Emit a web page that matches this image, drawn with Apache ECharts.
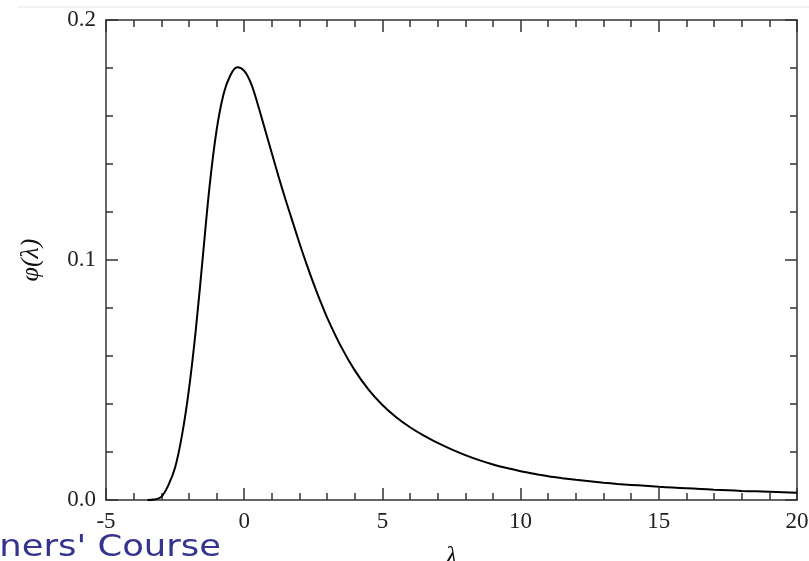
<!DOCTYPE html>
<html>
<head>
<meta charset="utf-8">
<script src="https://cdn.jsdelivr.net/npm/echarts@6/dist/echarts.min.js"></script>
<style>
  html, body { margin: 0; padding: 0; background: #fff; }
  #chart { width: 809px; height: 561px; }
</style>
</head>
<body>
<div id="chart"></div>
<script>
  // lambda values and phi(lambda)
  let lambdaVals = [-3.5, -3.25, -3.0, -2.75, -2.5, -2.25, -2.0, -1.75, -1.5, -1.25, -1.0, -0.75, -0.5, -0.25,
    0.0, 0.25, 0.5, 0.75, 1.0, 1.25, 1.5, 1.75, 2.0, 2.25, 2.5, 2.75, 3.0,
    3.5, 4.0, 4.5, 5.0, 5.5, 6.0, 6.5, 7.0, 7.5, 8.0, 8.5, 9.0, 9.5,
    10, 10.5, 11, 11.5, 12, 12.5, 13, 13.5, 14, 14.5, 15, 15.5, 16, 16.5, 17, 17.5, 18, 18.5, 19, 19.5, 20];
  let phiVals = [0.0, 0.0002, 0.0013, 0.006, 0.0135, 0.027, 0.046, 0.071, 0.101, 0.131, 0.154, 0.169, 0.177, 0.1803,
    0.1788, 0.1735, 0.1645, 0.1545, 0.1445, 0.1345, 0.125, 0.116, 0.107, 0.0985, 0.0905, 0.083, 0.076,
    0.064, 0.054, 0.046, 0.0396, 0.0345, 0.0303, 0.0268, 0.0238, 0.0211, 0.0187, 0.0166, 0.0148, 0.0133,
    0.0120, 0.0109, 0.0099, 0.0091, 0.0084, 0.0078, 0.0072, 0.0067, 0.0063, 0.0059, 0.0055, 0.0052, 0.0049, 0.0046, 0.0043, 0.0041, 0.0038, 0.0036, 0.0034, 0.0032, 0.0030];
  let xTicks = [-5, 0, 5, 10, 15, 20];
  let yTicks = [0.0, 0.1, 0.2];

  let points = lambdaVals.map(function (x, i) { return [x, phiVals[i]]; });

  let serif = '"Liberation Serif", "DejaVu Serif", serif';
  let axisCol = '#333';

  function xAxisDef(pos, showLabel) {
    return {
      type: 'value',
      position: pos,
      min: xTicks[0],
      max: xTicks[xTicks.length - 1],
      interval: 5,
      name: showLabel ? 'λ' : '',
      nameLocation: 'middle',
      nameGap: 44,
      nameTextStyle: { fontFamily: serif, fontSize: 26, fontStyle: 'italic', color: '#111' },
      axisLine: { show: true, onZero: false, lineStyle: { color: axisCol, width: 1.5 } },
      axisTick: { show: true, inside: true, length: 12, lineStyle: { color: axisCol, width: 1.5 } },
      minorTick: { show: true, splitNumber: 5, length: 7, lineStyle: { color: axisCol, width: 1.5 } },
      axisLabel: {
        show: showLabel, margin: 10,
        fontFamily: serif, fontSize: 23, color: '#222'
      },
      splitLine: { show: false }
    };
  }

  function yAxisDef(pos, showLabel) {
    return {
      type: 'value',
      position: pos,
      min: yTicks[0],
      max: yTicks[yTicks.length - 1],
      interval: 0.1,
      name: showLabel ? 'φ(λ)' : '',
      nameLocation: 'middle',
      nameGap: 62,
      nameRotate: 90,
      nameTextStyle: { fontFamily: serif, fontSize: 26, fontStyle: 'italic', color: '#111' },
      axisLine: { show: true, onZero: false, lineStyle: { color: axisCol, width: 1.5 } },
      axisTick: { show: true, inside: true, length: 12, lineStyle: { color: axisCol, width: 1.5 } },
      minorTick: { show: true, splitNumber: 5, length: 7, lineStyle: { color: axisCol, width: 1.5 } },
      axisLabel: {
        show: showLabel, margin: 10,
        fontFamily: serif, fontSize: 23, color: '#222',
        formatter: function (v) { return v.toFixed(1); }
      },
      splitLine: { show: false }
    };
  }

  let chart = echarts.init(document.getElementById('chart'));
  chart.setOption({
    backgroundColor: '#fff',
    animation: false,
    grid: { left: 106, right: 12, top: 20, bottom: 61, containLabel: false, outerBoundsMode: 'none' },
    xAxis: [xAxisDef('bottom', true), xAxisDef('top', false)],
    yAxis: [yAxisDef('left', true), yAxisDef('right', false)],
    graphic: [
      {
        type: 'line',
        shape: { x1: 17, y1: 7, x2: 809, y2: 7 },
        style: { stroke: '#eeeeee', lineWidth: 1.5 }
      },
      {
        type: 'text',
        x: 221, y: 563,
        scaleX: 1.18,
        style: {
          text: "Beginners' Course",
          align: 'right', verticalAlign: 'bottom',
          font: '30px "Comic Sans MS", "DejaVu Sans", sans-serif',
          fill: '#34348f'
        }
      }
    ],
    series: [{
      type: 'line',
      data: points,
      xAxisIndex: 0,
      yAxisIndex: 0,
      showSymbol: false,
      smooth: 0.35,
      lineStyle: { color: '#000', width: 2 }
    }]
  });
</script>
</body>
</html>
